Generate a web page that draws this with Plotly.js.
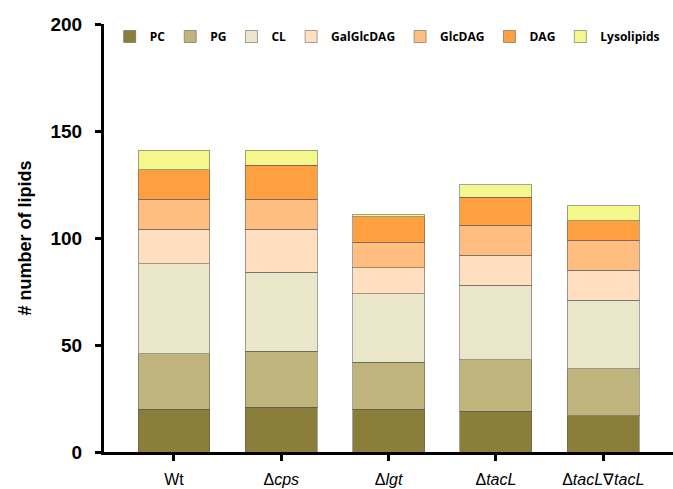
<!DOCTYPE html>
<html>
<head>
<meta charset="utf-8">
<script src="https://cdn.plot.ly/plotly-3.0.1.min.js"></script>
<style>html,body{margin:0;padding:0;background:#fff;}#chart{width:673px;height:489px;}</style>
</head>
<body>
<div id="chart"></div>
<script>
const categories = ["Wt", "Δcps", "Δlgt", "ΔtacL", "ΔtacL∇tacL"];
const tickLabels = ["Wt", "Δ<i>cps</i>", "Δ<i>lgt</i>", "Δ<i>tacL</i>", "Δ<i>tacL</i>∇<i>tacL</i>"];
const seriesNames = ["PC", "PG", "CL", "GalGlcDAG", "GlcDAG", "DAG", "Lysolipids"];
const PC = [20, 21, 20, 19, 17];
const PG = [26, 26, 22, 24, 22];
const CL = [42, 37, 32, 35, 32];
const GalGlcDAG = [16, 20, 12, 14, 14];
const GlcDAG = [14, 14, 12, 14, 14];
const DAG = [14, 16, 12, 13, 9];
const Lysolipids = [9, 7, 1, 6, 7];
const seriesValues = [PC, PG, CL, GalGlcDAG, GlcDAG, DAG, Lysolipids];
const colors = ["#8b7d3a", "#bfb57c", "#eae6ca", "#ffdfbf", "#ffbd80", "#ffa040", "#f3f78c"];

const xIdx = categories.map((c, i) => i);
const traces = seriesNames.map((name, k) => ({
  type: "bar",
  name: name,
  x: xIdx,
  y: seriesValues[k],
  width: 0.67,
  marker: {color: colors[k], line: {color: "rgba(90,90,90,0.55)", width: 1}},
  hoverinfo: "y+name"
}));

const layout = {
  width: 673, height: 489,
  margin: {l: 104, r: 0, t: 24, b: 37, pad: 0, autoexpand: false},
  paper_bgcolor: "#fff", plot_bgcolor: "#fff",
  barmode: "stack",
  showlegend: true,
  legend: {
    orientation: "h", xref: "container", yref: "container",
    x: 0.163, y: 0.955, xanchor: "left", yanchor: "top",
    traceorder: "normal",
    font: {family: "Open Sans, Liberation Sans, sans-serif", size: 12, color: "#000", weight: "bold"},
    itemwidth: 30, bgcolor: "rgba(0,0,0,0)", borderwidth: 0
  },
  xaxis: {
    type: "linear",
    range: [-0.652, 4.65],
    tickmode: "array", tickvals: xIdx, ticktext: tickLabels,
    ticks: "outside", ticklen: 6, tickwidth: 3, tickcolor: "#000",
    ticklabelstandoff: 5,
    showline: true, linecolor: "#000", linewidth: 3,
    showgrid: false, zeroline: false,
    tickfont: {family: "Liberation Sans, Arial, sans-serif", size: 16, color: "#000"}
  },
  yaxis: {
    range: [0, 200],
    tickvals: [0, 50, 100, 150, 200],
    ticks: "outside", ticklen: 6, tickwidth: 3, tickcolor: "#000",
    ticklabelstandoff: 9,
    showline: true, linecolor: "#000", linewidth: 3,
    showgrid: false, zeroline: false,
    tickfont: {family: "Liberation Sans, Arial, sans-serif", size: 19, color: "#000", weight: "bold"},
    title: {text: "# number of lipids", standoff: 15,
      font: {family: "Liberation Sans, Arial, sans-serif", size: 18, color: "#000", weight: "bold"}}
  }
};

Plotly.newPlot("chart", traces, layout, {displayModeBar: false, staticPlot: true});
</script>
</body>
</html>
